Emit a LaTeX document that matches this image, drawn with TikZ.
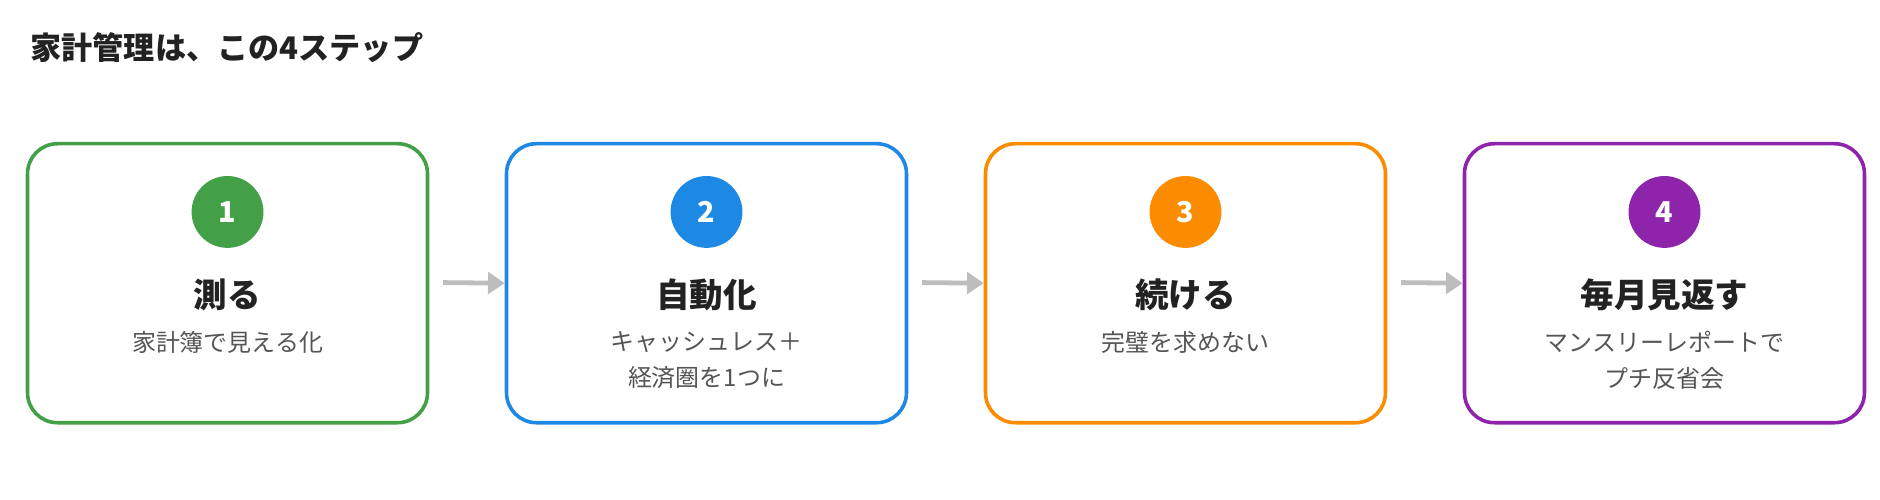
\documentclass[tikz,border=0pt]{standalone}
\usepackage{fontspec}
\setmainfont{Noto Sans CJK JP}
\usetikzlibrary{arrows.meta}
\definecolor{cg}{HTML}{43A047}
\definecolor{cb}{HTML}{1E88E5}
\definecolor{co}{HTML}{FB8C00}
\definecolor{cp}{HTML}{8E24AA}
\definecolor{tx}{HTML}{222222}
\definecolor{sub}{HTML}{555555}
\definecolor{ar}{HTML}{BDBDBD}
\tikzset{
 box/.style={draw=#1,line width=3pt,rounded corners=25pt,minimum width=334pt,minimum height=233pt,fill=white},
 num/.style={circle,fill=#1,minimum size=60pt,inner sep=0pt,text=white,font=\fontsize{24}{24}\selectfont\bfseries},
 ttl/.style={text=tx,font=\fontsize{28}{28}\selectfont\bfseries},
 sb/.style={text=sub,font=\fontsize{20}{30}\selectfont,align=center},
 arr/.style={draw=ar,line width=4pt,-{Triangle[length=14pt,width=18pt]}}
}
\begin{document}
\begin{tikzpicture}[x=1pt,y=-1pt]
\useasboundingbox (0,0) rectangle (1570,417.5);
\node[anchor=west,text=tx,font=\fontsize{26}{26}\selectfont\bfseries] (title) at (22,40) {家計管理は、この4ステップ};
\foreach \i/\c/\n/\t in {1/cg/1/測る,2/cb/2/自動化,3/co/3/続ける,4/cp/4/毎月見返す}{
 \pgfmathsetmacro\xx{190+400*(\i-1)}
 \node[box=\c] (b\i) at (\xx,236.5) {};
 \node[num=\c] (n\i) at (\xx,177) {\n};
 \node[ttl] (t\i) at (\xx,246) {\t};
}
\node[sb,anchor=north] (s1) at (190,273) {家計簿で見える化};
\node[sb,anchor=north] (s2) at (590,273) {キャッシュレス＋\\経済圏を1つに};
\node[sb,anchor=north] (s3) at (990,273) {完璧を求めない};
\node[sb,anchor=north] (s4) at (1390,273) {マンスリーレポートで\\プチ反省会};
\coordinate (a1) at (370,236); \coordinate (a2) at (770,236); \coordinate (a3) at (1170,236);
\draw[arr] (a1) -- (b2.west);
\draw[arr] (a2) -- (b3.west);
\draw[arr] (a3) -- (b4.west);
\end{tikzpicture}
\end{document}
